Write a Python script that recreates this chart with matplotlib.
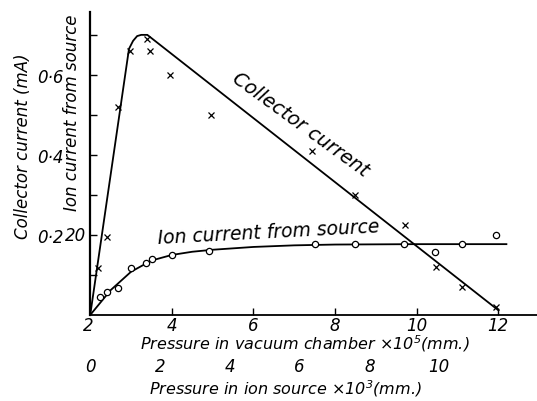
import matplotlib
matplotlib.use("Agg")
import matplotlib.pyplot as plt

# measured points, collector current (x marks)
coll_x = [2.2, 2.4, 2.67, 2.98, 3.4, 3.47, 3.96, 4.97, 7.44, 8.5, 9.72, 10.48, 11.1, 11.95]
coll_y = [0.118, 0.195, 0.52, 0.66, 0.69, 0.66, 0.60, 0.50, 0.41, 0.30, 0.225, 0.12, 0.07, 0.02]
# drawn collector curve
coll_cx = [2.0, 2.95, 3.05, 3.15, 3.25, 3.4, 12.0]
coll_cy = [0.0, 0.665, 0.685, 0.697, 0.700, 0.700, 0.012]

# measured points, ion current from source (circles)
ion_x = [2.24, 2.42, 2.69, 3.0, 3.37, 3.52, 4.0, 4.92, 7.5, 8.5, 9.7, 10.45, 11.1, 11.95]
ion_y = [0.045, 0.058, 0.068, 0.117, 0.13, 0.14, 0.15, 0.16, 0.177, 0.177, 0.177, 0.157, 0.177, 0.20]
# drawn ion curve
ion_cx = [2.0, 2.5, 3.0, 3.5, 4.0, 4.5, 5.0, 6.0, 7.0, 8.0, 10.0, 12.2]
ion_cy = [0.0, 0.062, 0.108, 0.136, 0.150, 0.158, 0.163, 0.170, 0.174, 0.176, 0.177, 0.177]

vac_ticks = [4, 6, 8, 10, 12]
vac_labels = ["4", "6", "8", "10", "12"]
src_ticks = [0, 2, 4, 6, 8, 10]
y_ticks = [0.1, 0.2, 0.3, 0.4, 0.5, 0.6, 0.7]
y_labels = ["", "0·2", "", "0·4", "", "0·6", ""]

plt.rcParams["font.family"] = ["DejaVu Sans"]
plt.rcParams["font.style"] = "italic"

fig = plt.figure(figsize=(5.37, 4.02), dpi=100)
ax = fig.add_axes([0.168, 0.214, 0.832, 0.754])

ax.plot(coll_cx, coll_cy, color="black", lw=1.3)
ax.plot(ion_cx, ion_cy, color="black", lw=1.3)
ax.plot(coll_x, coll_y, "x", color="black", ms=4, mew=0.9)
ax.plot(ion_x, ion_y, "o", mfc="white", mec="black", ms=4.5, mew=0.9)

ax.set_xlim(2, 12.95)
ax.set_ylim(0, 0.7575)
for s in ["top", "right"]:
    ax.spines[s].set_visible(False)
ax.spines["left"].set_linewidth(1.6)
ax.spines["bottom"].set_linewidth(1.3)

ax.set_xticks(vac_ticks)
ax.set_xticklabels(vac_labels, fontsize=12)
ax.set_yticks(y_ticks)
ax.set_yticklabels(y_labels, fontsize=12)
ax.tick_params(axis="both", direction="in", length=5, width=1, pad=1)
ax.tick_params(axis="y", pad=19)
ax.text(-0.004, -0.003, "2", transform=ax.transAxes, fontsize=12, ha="center", va="top")
ax.text(-0.01, 0.2, "20", transform=ax.get_yaxis_transform(), fontsize=12, ha="right", va="center")

ax.text(0.481, -0.092, "Pressure in vacuum chamber \u00d7$10^5$(mm.)", transform=ax.transAxes,
        fontsize=11.5, ha="center", va="center")
ax.set_ylabel("Collector current (mA)", fontsize=12)
ax.yaxis.set_label_coords(-0.13, 0.56)
fig.text(0.134, 0.72, "Ion current from source", rotation=90, fontsize=12, ha="center", va="center")

# second scale: pressure in ion source
sec = ax.secondary_xaxis(-0.14, functions=(lambda v: (v - 2) * 10 / 8.55, lambda s: s * 0.855 + 2))
sec.set_xticks(src_ticks)
sec.set_xticklabels([str(t) for t in src_ticks], fontsize=12)
sec.spines["bottom"].set_visible(False)
sec.tick_params(length=0, pad=0)
ax.text(0.436, -0.24, "Pressure in ion source \u00d7$10^3$(mm.)", transform=ax.transAxes,
        fontsize=11.5, ha="center", va="center")

ax.text(7.15, 0.478, "Collector current", rotation=-36, fontsize=14, ha="center", va="center")
ax.text(6.36, 0.208, "Ion current from source", rotation=3, fontsize=13.5, ha="center", va="center")

fig.savefig("out.png", dpi=100)
